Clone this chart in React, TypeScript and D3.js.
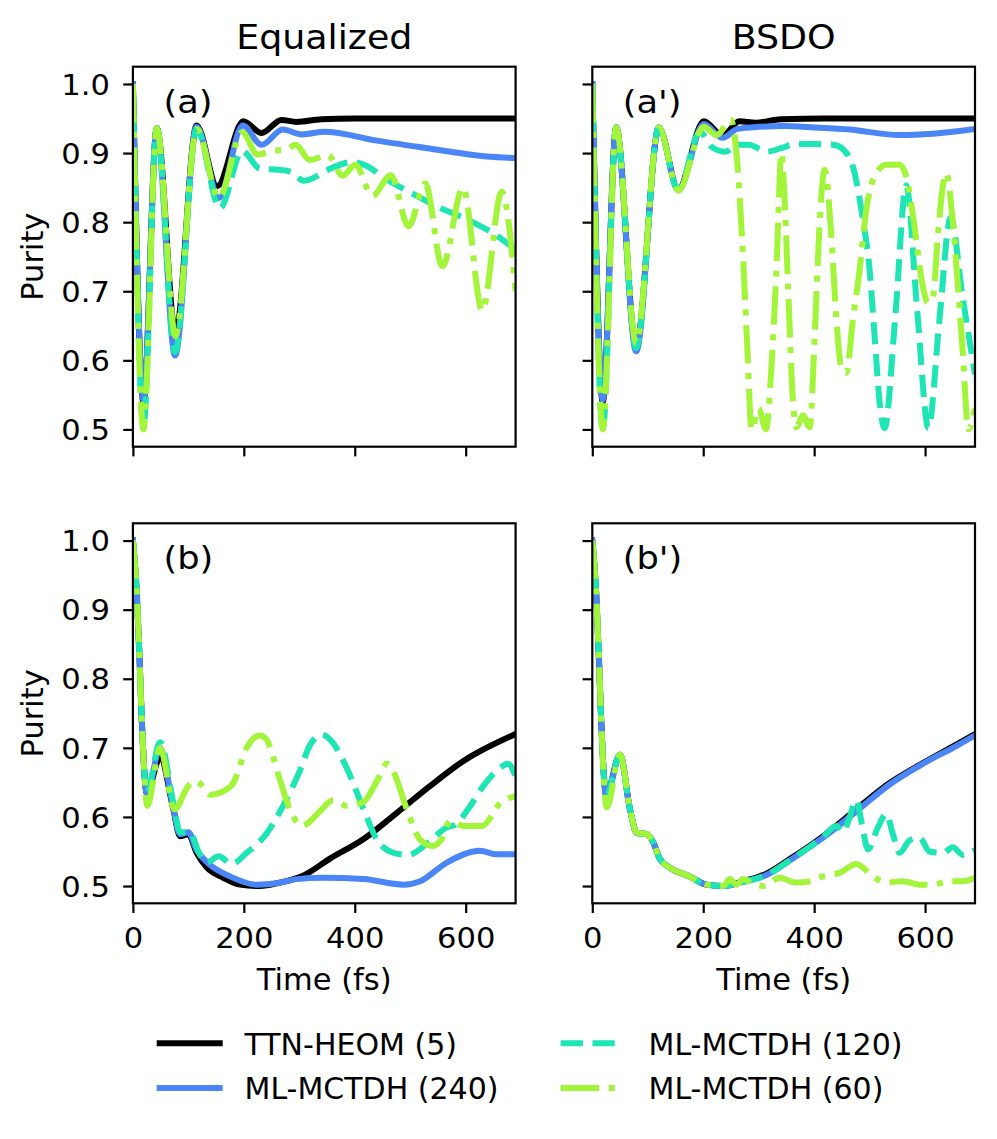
import { useEffect, useRef } from 'react';
import * as d3 from 'd3';

// purity vs time (fs) as [t, purity] pairs
const TIME_TICKS = [0, 200, 400, 600];
const PURITY_TICKS = [0.5, 0.6, 0.7, 0.8, 0.9, 1.0];
const COLUMN_TITLES = ['Equalized', 'BSDO'];
const SERIES_LABELS = ['TTN-HEOM (5)', 'ML-MCTDH (240)', 'ML-MCTDH (120)', 'ML-MCTDH (60)'];

// (a) equalized, first set
const aTtn = [[0, 1.0], [19, 0.54], [43, 0.936], [77, 0.64], [115, 0.94], [152, 0.852], [199, 0.946], [232, 0.929], [268, 0.948], [295, 0.945], [340, 0.949], [400, 0.95], [690, 0.95]];
const aMl240 = [[0, 1.0], [19, 0.543], [43, 0.936], [76, 0.607], [115, 0.938], [155, 0.835], [198, 0.94], [232, 0.912], [270, 0.934], [305, 0.927], [345, 0.931], [440, 0.918], [540, 0.906], [638, 0.895], [690, 0.893]];
const aMl120 = [[0, 1.0], [19, 0.505], [43, 0.936], [76, 0.612], [115, 0.935], [157, 0.82], [197, 0.903], [230, 0.877], [262, 0.876], [285, 0.873], [308, 0.86], [360, 0.879], [395, 0.887], [420, 0.882], [457, 0.862], [500, 0.843], [550, 0.822], [605, 0.803], [655, 0.781], [690, 0.76]];
const aMl60 = [[0, 1.0], [19, 0.5], [43, 0.936], [77, 0.635], [115, 0.935], [155, 0.835], [197, 0.93], [225, 0.898], [250, 0.903], [277, 0.905], [293, 0.912], [319, 0.89], [352, 0.897], [378, 0.867], [401, 0.883], [432, 0.838], [465, 0.868], [497, 0.794], [527, 0.856], [558, 0.736], [595, 0.85], [630, 0.672], [665, 0.844], [690, 0.7]];

// (a') BSDO, first set
const apTtn = [[0, 1.0], [19, 0.54], [43, 0.937], [79, 0.62], [120, 0.937], [155, 0.848], [201, 0.946], [235, 0.925], [265, 0.946], [295, 0.944], [340, 0.949], [420, 0.95], [690, 0.95]];
const apMl240 = [[0, 1.0], [19, 0.543], [43, 0.937], [79, 0.613], [120, 0.937], [155, 0.846], [201, 0.942], [235, 0.922], [262, 0.935], [300, 0.938], [344, 0.939], [400, 0.937], [464, 0.934], [554, 0.926], [614, 0.928], [690, 0.935]];
const apMl120 = [[0, 1.0], [19, 0.5], [43, 0.937], [79, 0.618], [120, 0.937], [155, 0.846], [194, 0.931], [215, 0.909], [240, 0.902], [262, 0.912], [282, 0.912], [315, 0.902], [340, 0.907], [365, 0.913], [400, 0.913], [435, 0.912], [455, 0.903], [470, 0.88], [488, 0.803], [500, 0.731], [509, 0.635], [518, 0.54], [527, 0.502], [546, 0.66], [566, 0.853], [586, 0.67], [606, 0.502], [626, 0.66], [646, 0.806], [668, 0.69], [690, 0.58]];
const apMl60 = [[0, 1.0], [19, 0.5], [43, 0.937], [79, 0.625], [120, 0.937], [155, 0.846], [201, 0.938], [224, 0.926], [250, 0.948], [262, 0.88], [272, 0.746], [280, 0.61], [287, 0.5], [300, 0.53], [313, 0.5], [323, 0.59], [332, 0.731], [341, 0.9], [347, 0.828], [353, 0.707], [362, 0.539], [368, 0.503], [380, 0.52], [392, 0.503], [401, 0.635], [410, 0.8], [419, 0.876], [431, 0.78], [440, 0.66], [449, 0.59], [458, 0.582], [470, 0.66], [482, 0.731], [494, 0.818], [506, 0.861], [530, 0.883], [554, 0.883], [566, 0.866], [578, 0.81], [596, 0.707], [605, 0.683], [614, 0.69], [623, 0.78], [632, 0.852], [638, 0.871], [650, 0.8], [659, 0.71], [668, 0.611], [678, 0.5], [690, 0.53]];

// (b) equalized, second set
const bTtn = [[0, 1.0], [7, 0.924], [12, 0.828], [16, 0.741], [25, 0.635], [49, 0.686], [73, 0.611], [85, 0.572], [100, 0.575], [115, 0.548], [133, 0.527], [163, 0.512], [193, 0.502], [229, 0.5], [265, 0.505], [307, 0.515], [356, 0.54], [416, 0.568], [476, 0.606], [536, 0.645], [596, 0.681], [690, 0.72]];
const bMl240 = [[0, 1.0], [7, 0.924], [12, 0.828], [16, 0.741], [25, 0.634], [49, 0.7], [73, 0.612], [85, 0.575], [100, 0.578], [115, 0.552], [137, 0.532], [175, 0.514], [223, 0.502], [260, 0.504], [295, 0.51], [343, 0.512], [416, 0.51], [488, 0.502], [518, 0.507], [566, 0.534], [626, 0.551], [656, 0.546], [690, 0.546]];
const bMl120 = [[0, 1.0], [7, 0.924], [12, 0.828], [16, 0.741], [25, 0.635], [49, 0.708], [73, 0.62], [85, 0.578], [103, 0.578], [118, 0.55], [133, 0.534], [155, 0.543], [178, 0.532], [205, 0.548], [240, 0.575], [270, 0.615], [300, 0.665], [320, 0.705], [340, 0.719], [358, 0.71], [386, 0.67], [416, 0.611], [440, 0.567], [470, 0.548], [495, 0.545], [536, 0.565], [566, 0.585], [580, 0.588], [605, 0.612], [632, 0.645], [662, 0.671], [676, 0.677], [690, 0.658]];
const bMl60 = [[0, 1.0], [7, 0.924], [12, 0.828], [16, 0.741], [26, 0.616], [49, 0.7], [75, 0.611], [100, 0.645], [115, 0.652], [139, 0.632], [165, 0.638], [181, 0.649], [205, 0.7], [229, 0.718], [240, 0.713], [265, 0.654], [283, 0.611], [305, 0.587], [320, 0.594], [337, 0.608], [361, 0.624], [386, 0.616], [416, 0.622], [440, 0.652], [458, 0.677], [470, 0.665], [494, 0.611], [518, 0.567], [540, 0.558], [556, 0.567], [572, 0.594], [596, 0.587], [630, 0.587], [662, 0.62], [690, 0.63]];

// (b') BSDO, second set
const bpTtn = [[0, 1.0], [7, 0.924], [12, 0.828], [16, 0.741], [25, 0.632], [50, 0.69], [68, 0.611], [80, 0.577], [98, 0.575], [110, 0.563], [122, 0.539], [139, 0.527], [175, 0.514], [206, 0.502], [236, 0.5], [272, 0.507], [314, 0.518], [356, 0.539], [416, 0.572], [476, 0.611], [536, 0.649], [596, 0.678], [657, 0.705], [690, 0.72]];
const bpMl240 = [[0, 1.0], [7, 0.924], [12, 0.828], [16, 0.741], [25, 0.63], [50, 0.69], [68, 0.611], [80, 0.577], [98, 0.575], [110, 0.563], [122, 0.539], [139, 0.527], [175, 0.514], [206, 0.502], [236, 0.5], [272, 0.506], [314, 0.516], [356, 0.537], [416, 0.57], [476, 0.608], [536, 0.647], [596, 0.677], [657, 0.703], [690, 0.718]];
const bpMl120 = [[0, 1.0], [7, 0.924], [12, 0.828], [16, 0.741], [25, 0.63], [50, 0.69], [68, 0.611], [80, 0.577], [98, 0.575], [110, 0.563], [122, 0.539], [139, 0.527], [175, 0.514], [206, 0.502], [236, 0.5], [272, 0.506], [314, 0.516], [356, 0.537], [416, 0.571], [440, 0.587], [452, 0.578], [462, 0.595], [476, 0.624], [486, 0.59], [497, 0.553], [515, 0.585], [530, 0.604], [542, 0.575], [554, 0.548], [572, 0.566], [590, 0.57], [608, 0.55], [632, 0.548], [650, 0.556], [668, 0.545], [690, 0.552]];
const bpMl60 = [[0, 1.0], [7, 0.924], [12, 0.828], [16, 0.741], [26, 0.614], [50, 0.69], [68, 0.611], [80, 0.577], [98, 0.575], [110, 0.563], [122, 0.539], [139, 0.527], [175, 0.514], [206, 0.502], [236, 0.5], [248, 0.51], [260, 0.502], [272, 0.51], [290, 0.503], [308, 0.5], [338, 0.512], [368, 0.505], [392, 0.507], [416, 0.514], [446, 0.519], [476, 0.532], [506, 0.514], [530, 0.505], [560, 0.507], [590, 0.502], [614, 0.502], [644, 0.507], [668, 0.507], [690, 0.512]];

const PANEL_LABELS = ['(a)', "(a')", '(b)', "(b')"];
const PANEL_DATA = [
  [aTtn, aMl240, aMl120, aMl60],
  [apTtn, apMl240, apMl120, apMl60],
  [bTtn, bMl240, bMl120, bMl60],
  [bpTtn, bpMl240, bpMl120, bpMl60],
];

const W = 997;
const H = 1139;
const FONT = 'DejaVu Sans, sans-serif';
const LW = 6;
const COLS = [[132.9, 975 - 592.3 + 132.9], [592.3, 975]];
const ROWS = [[66.7, 446.7], [523.3, 903.3]];
const STYLES = [
  { color: '#000000', dash: null },
  { color: '#4a86f5', dash: null },
  { color: '#1ee5b4', dash: `${3.7 * LW} ${1.6 * LW}` },
  { color: '#a3f53a', dash: `${6.4 * LW} ${1.6 * LW} ${LW} ${1.6 * LW}` },
];

export default function App() {
  const svgRef = useRef<SVGSVGElement>(null);

  useEffect(() => {
    if (!svgRef.current) return;
    const svg = d3.select(svgRef.current);
    svg.selectAll('*').remove();
    svg.append('rect').attr('width', W).attr('height', H).attr('fill', '#fff');

    PANEL_DATA.forEach((series, i) => {
      const row = Math.floor(i / 2);
      const col = i % 2;
      const [x0, x1] = COLS[col];
      const [y0, y1] = ROWS[row];
      const x = d3.scaleLinear().domain([0, 690]).range([x0, x1]);
      const y = d3.scaleLinear().domain([0.475, 1.025]).range([y1, y0]);

      const clipId = `clip-${i}`;
      svg.append('clipPath').attr('id', clipId)
        .append('rect').attr('x', x0).attr('y', y0).attr('width', x1 - x0).attr('height', y1 - y0);

      const line = d3.line<number[]>()
        .x(d => x(d[0])).y(d => y(d[1]))
        .curve(d3.curveMonotoneX);

      const g = svg.append('g').attr('clip-path', `url(#${clipId})`);
      series.forEach((pts, k) => {
        const st = STYLES[k];
        g.append('path')
          .attr('d', line(pts as number[][]))
          .attr('fill', 'none')
          .attr('stroke', st.color)
          .attr('stroke-width', LW)
          .attr('stroke-linejoin', 'round')
          .attr('stroke-linecap', st.dash ? 'butt' : 'square')
          .attr('stroke-dasharray', st.dash);
      });

      // axes (tick labels a bit wider than plain DejaVu, as in the original)
      const yAxis = d3.axisLeft(y).tickValues(PURITY_TICKS).tickSize(9.7).tickSizeOuter(0)
        .tickFormat(col === 0 ? d3.format('.1f') : () => '');
      const ga = svg.append('g').attr('transform', `translate(${x0},0)`).call(yAxis);
      ga.select('.domain').remove();
      ga.selectAll('.tick line').attr('stroke', '#000').attr('stroke-width', 2.2);
      ga.selectAll('.tick text').attr('x', 0).attr('dy', '0.367em')
        .attr('transform', 'translate(-23,0) scale(1.1,1)')
        .attr('fill', '#000').style('font-size', '27.8px').style('font-family', FONT);

      const xAxis = d3.axisBottom(x).tickValues(TIME_TICKS).tickSize(9.7).tickSizeOuter(0)
        .tickFormat(row === 1 ? d3.format('d') : () => '');
      const gb = svg.append('g').attr('transform', `translate(0,${y1})`).call(xAxis);
      gb.select('.domain').remove();
      gb.selectAll('.tick line').attr('stroke', '#000').attr('stroke-width', 2.2);
      gb.selectAll('.tick text').attr('y', 0).attr('dy', 0)
        .attr('transform', 'translate(0,45) scale(1.1,1)')
        .attr('fill', '#000').style('font-size', '27.8px').style('font-family', FONT);

      svg.append('rect')
        .attr('x', x0).attr('y', y0).attr('width', x1 - x0).attr('height', y1 - y0)
        .attr('fill', 'none').attr('stroke', '#000').attr('stroke-width', 2.2);

      svg.append('text')
        .attr('transform', `translate(${x0 + 30.5},${y0 + 46}) scale(1.1,1)`)
        .text(PANEL_LABELS[i])
        .style('font-size', '32px').style('font-family', FONT);

      if (row === 0) {
        svg.append('text')
          .attr('transform', `translate(${(x0 + x1) / 2},49) scale(1.07,1)`)
          .attr('text-anchor', 'middle')
          .text(COLUMN_TITLES[col])
          .style('font-size', '34px').style('font-family', FONT);
      } else {
        svg.append('text')
          .attr('x', (x0 + x1) / 2).attr('y', 990)
          .attr('text-anchor', 'middle')
          .text('Time (fs)')
          .style('font-size', '30.5px').style('font-family', FONT);
      }
      if (col === 0) {
        svg.append('text')
          .attr('transform', `translate(43,${(y0 + y1) / 2}) rotate(-90)`)
          .attr('text-anchor', 'middle')
          .text('Purity')
          .style('font-size', '30.5px').style('font-family', FONT);
      }
    });

    // legend, two columns
    const legendCols = [159.7, 563.7];
    const legendRows = [1043.3, 1088];
    SERIES_LABELS.forEach((label, k) => {
      const st = STYLES[k];
      const lx = legendCols[Math.floor(k / 2)] - (st.dash ? 3 : 0);
      const ly = legendRows[k % 2];
      svg.append('line')
        .attr('x1', lx).attr('x2', lx + 60).attr('y1', ly).attr('y2', ly)
        .attr('stroke', st.color).attr('stroke-width', LW)
        .attr('stroke-linecap', st.dash ? 'butt' : 'square')
        .attr('stroke-dasharray', st.dash);
      svg.append('text')
        .attr('x', legendCols[Math.floor(k / 2)] + 84.8).attr('y', ly + 11.2)
        .text(label)
        .style('font-size', '30px').style('font-family', FONT);
    });
  }, []);

  return (
    <svg ref={svgRef} width={W} height={H}
      style={{ position: 'absolute', left: 0, top: 0, display: 'block' }} />
  );
}
